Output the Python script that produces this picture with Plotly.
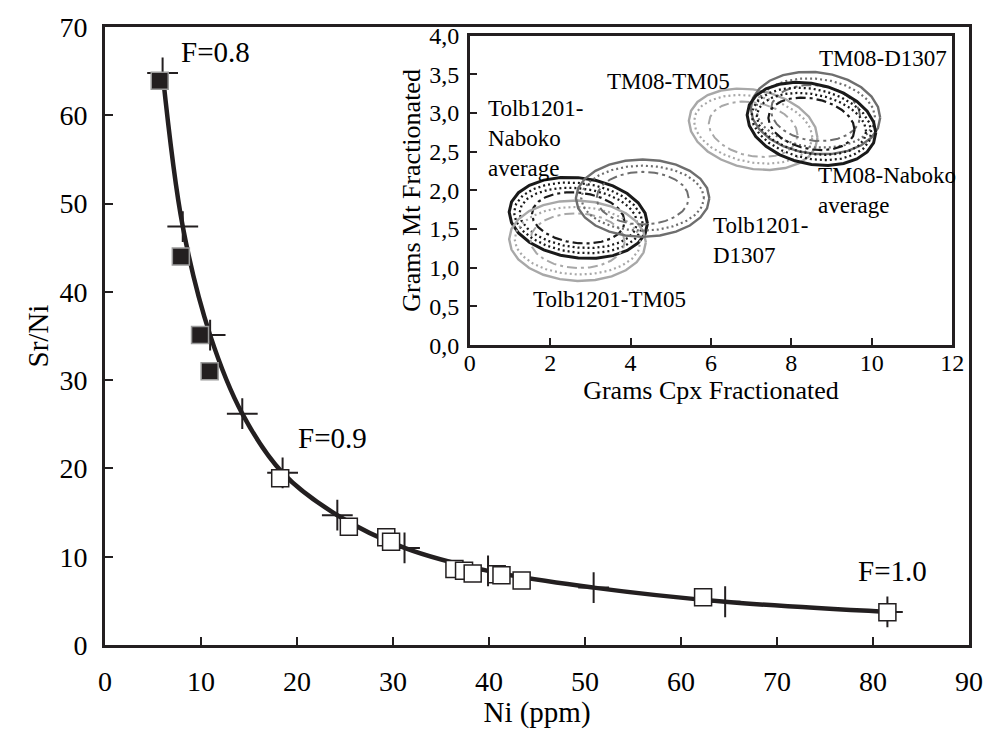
import numpy as np
import plotly.graph_objects as go

# ---------------- data: main diagram ----------------
# Fractional-crystallisation model (crosses every dF = 0.02)
model_F = [0.80, 0.82, 0.84, 0.86, 0.88, 0.90, 0.92, 0.94, 0.96, 0.98, 1.00]
model_ni = [6.0, 8.1, 10.95, 14.3, 18.5, 24.2, 31.2, 39.9, 50.9, 64.6, 81.5]
model_srni = [64.8, 47.4, 35.1, 26.2, 19.5, 14.7, 11.0, 8.4, 6.5, 4.9, 3.75]

# Samples (filled squares)
filled_ni = [5.7, 7.9, 9.9, 10.9]
filled_srni = [63.9, 44.0, 35.1, 31.0]

# Samples (open squares)
open_ni = [18.25, 25.4, 29.3, 29.8, 36.4, 37.4, 38.3, 40.8, 41.3, 43.4, 62.3, 81.5]
open_srni = [18.9, 13.4, 12.2, 11.7, 8.6, 8.4, 8.1, 8.0, 7.9, 7.3, 5.4, 3.7]

f_labels = ["F=0.8", "F=0.9", "F=1.0"]
f_label_x = [11.5, 23.7, 82.0]
f_label_y = [67.2, 23.4, 8.4]

# ---------------- data: inset (confidence ellipses) ----------------
ell_names = ["Tolb1201-Naboko average", "Tolb1201-TM05", "Tolb1201-D1307",
             "TM08-TM05", "TM08-D1307", "TM08-Naboko average"]
ell_cx = [2.70, 2.68, 4.30, 7.05, 8.60, 8.50]
ell_cy = [1.645, 1.35, 1.90, 2.79, 3.00, 2.86]
ell_rx = [1.72, 1.70, 1.66, 1.60, 1.61, 1.60]
ell_ry = [0.52, 0.52, 0.50, 0.515, 0.53, 0.525]
ell_tilt = [-0.075, -0.02, 0.0, -0.11, -0.06, -0.115]
ell_tone = ["black", "light", "dark", "light", "dark", "black"]

inset_labels = ["Tolb1201-<br>Naboko<br>average", "TM08-TM05", "TM08-D1307",
                "TM08-Naboko<br>average", "Tolb1201-<br>D1307", "Tolb1201-TM05"]
inset_label_x = [0.40, 4.95, 10.27, 8.62, 6.0, 3.48]
inset_label_y = [2.67, 3.41, 3.71, 2.00, 1.35, 0.59]
inset_label_anchor = ["left", "center", "center", "left", "left", "center"]

inset_yticks = [0, 0.5, 1, 1.5, 2, 2.5, 3, 3.5, 4]
inset_yticktext = ["0,0", "0,5", "1,0", "1,5", "2,0", "2,5", "3,0", "3,5", "4,0"]

# ---------------- styling ----------------
FONT = "Liberation Serif"
INK = "#231f20"
TONES = {"black": "#1a1a1a", "dark": "#6e6e6e", "light": "#a8a8a8"}
DOT = "2px,3px"
DASHDOT = "10px,4px,3px,4px"

fig = go.Figure()

# model curve
fig.add_trace(go.Scatter(x=model_ni, y=model_srni, mode="lines",
                         line=dict(color=INK, width=4.5, shape="spline", smoothing=1.0),
                         hoverinfo="skip", showlegend=False))
# model F ticks
fig.add_trace(go.Scatter(x=model_ni, y=model_srni, mode="markers",
                         marker=dict(symbol="cross-thin", size=22,
                                     line=dict(color=INK, width=2)),
                         text=[f"F={f:.2f}" for f in model_F], showlegend=False))
# samples
fig.add_trace(go.Scatter(x=open_ni, y=open_srni, mode="markers",
                         marker=dict(symbol="square", size=17, color="white",
                                     line=dict(color=INK, width=1.5)),
                         showlegend=False))
fig.add_trace(go.Scatter(x=filled_ni, y=filled_srni, mode="markers",
                         marker=dict(symbol="square", size=17, color=INK,
                                     line=dict(color="#9a9a9a", width=1.5)),
                         showlegend=False))

for txt, x, y in zip(f_labels, f_label_x, f_label_y):
    fig.add_annotation(x=x, y=y, xref="x", yref="y", text=txt, showarrow=False,
                       font=dict(family=FONT, size=29, color="black"))

# inset ellipses: (x-scale, y-scale, dash, width)
t = np.linspace(0, 2 * np.pi, 25)
rings_grey = [(1.0, 1.0, "solid", 2.4), (0.92, 0.84, DOT, 2.2), (0.69, 0.68, DASHDOT, 2.0)]
rings_black = [(1.0, 1.0, "solid", 3.0), (0.93, 0.87, DOT, 2.3), (0.85, 0.74, DOT, 2.3),
               (0.67, 0.63, DASHDOT, 2.2)]
for name, cx, cy, rx, ry, k, tone in zip(ell_names, ell_cx, ell_cy, ell_rx,
                                          ell_ry, ell_tilt, ell_tone):
    col = TONES[tone]
    ring_set = rings_black if tone == "black" else rings_grey
    for sx, sy, dash, w in ring_set:
        xs = cx + sx * rx * np.cos(t)
        ys = cy + sy * ry * np.sin(t) + sx * k * np.cos(t)
        fig.add_trace(go.Scatter(x=xs, y=ys, xaxis="x2", yaxis="y2", mode="lines",
                                 line=dict(color=col, width=w, dash=dash),
                                 name=name, hoverinfo="name", showlegend=False))

for txt, x, y, anc in zip(inset_labels, inset_label_x, inset_label_y, inset_label_anchor):
    fig.add_annotation(x=x, y=y, xref="x2", yref="y2", text=txt, showarrow=False,
                       xanchor=anc, align="left",
                       font=dict(family=FONT, size=23, color="black"))

axis_common = dict(showgrid=False, zeroline=False, showline=True, mirror=True,
                   ticks="inside", linecolor=INK, tickcolor=INK)

fig.update_layout(
    width=995, height=733,
    margin=dict(l=105, r=19, t=22, b=88),
    paper_bgcolor="white", plot_bgcolor="white",
    font=dict(family=FONT, color="black"),
    xaxis=dict(domain=[0, 1], range=[0, 90], tickvals=list(range(0, 91, 10)),
               ticklen=8, tickwidth=2, linewidth=2.8,
               tickfont=dict(family=FONT, size=28), ticklabelstandoff=9,
               title=dict(text="Ni (ppm)", font=dict(family=FONT, size=29), standoff=4),
               **axis_common),
    yaxis=dict(domain=[0, 1], range=[0, 70], tickvals=list(range(0, 71, 10)),
               ticklen=8, tickwidth=2, linewidth=2.8,
               tickfont=dict(family=FONT, size=28), ticklabelstandoff=9,
               title=dict(text="Sr/Ni", font=dict(family=FONT, size=29), standoff=3),
               **axis_common),
    xaxis2=dict(domain=[0.4222, 0.9805], range=[0, 12], tickvals=list(range(0, 13, 2)),
                anchor="y2", ticklen=7, tickwidth=2, linewidth=2.6,
                tickfont=dict(family=FONT, size=24), ticklabelstandoff=-6,
                title=dict(text="Grams Cpx Fractionated", font=dict(family=FONT, size=26), standoff=0),
                **axis_common),
    yaxis2=dict(domain=[0.4852, 0.986], range=[0, 4], tickvals=inset_yticks,
                ticktext=inset_yticktext, anchor="x2", ticklen=7, tickwidth=2, linewidth=2.6,
                tickfont=dict(family=FONT, size=24), ticklabelstandoff=3,
                title=dict(text="Grams Mt Fractionated", font=dict(family=FONT, size=26), standoff=2),
                **axis_common),
)

fig.write_html("out.html")
